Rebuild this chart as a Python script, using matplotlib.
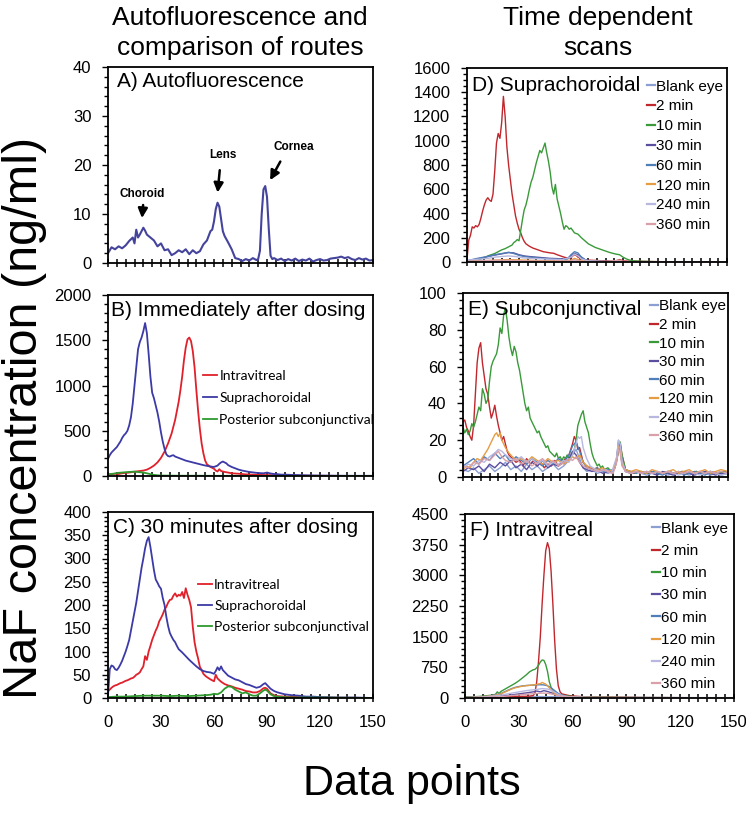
import matplotlib
matplotlib.use("Agg")
import matplotlib.pyplot as plt
from matplotlib.ticker import MultipleLocator
import numpy as np

plt.rcParams['font.family'] = ['Liberation Sans', 'DejaVu Sans']

# ---------------- data ----------------
xticks_vals = [0, 30, 60, 90, 120, 150]

# Panel A: autofluorescence
auto_A = [(0,2.0),(2,3.2),(4,2.8),(6,3.4),(8,3.0),(10,3.6),(12,4.5),(14,5.2),(15,4.0),(16,6.8),(17,5.2),(18,5.8),(19,6.5),(20,7.2),(21,6.6),(22,5.8),(24,5.2),(26,4.6),(28,3.4),(30,4.0),(32,2.6),(34,2.8),(36,1.6),(38,2.0),(40,2.6),(42,2.2),(44,2.8),(46,1.8),(48,2.6),(50,2.0),(52,2.4),(54,3.8),(56,4.6),(58,6.5),(59,6.8),(60,8.5),(61,11.0),(62,12.3),(63,11.5),(64,9.0),(65,6.5),(66,5.5),(68,4.2),(70,2.8),(72,1.0),(74,0.8),(76,0.4),(78,0.8),(80,0.5),(82,1.0),(84,0.6),(85,0.8),(86,2.5),(87,10.0),(88,15.0),(89,15.7),(90,13.5),(91,7.0),(92,1.5),(93,0.8),(94,1.0),(96,0.6),(98,0.9),(100,0.4),(102,0.8),(104,0.5),(106,0.9),(108,0.4),(110,0.7),(112,0.5),(114,0.9),(116,0.3),(118,0.6),(120,0.8),(122,0.5),(124,0.6),(126,0.9),(128,1.0),(130,1.1),(132,1.3),(134,1.0),(136,1.2),(138,0.8),(140,0.6),(142,1.0),(144,0.7),(146,0.9),(148,0.5),(150,0.6)]
annot_labels = ["Choroid", "Lens", "Cornea"]
annot_text_xy = [(19.6, 14.1), (64.9, 22.0), (104.9, 23.6)]
annot_tail_xy = [(20.0, 12.4), (63.4, 19.5), (98.3, 21.2)]
annot_head_xy = [(19.1, 8.6), (61.9, 13.8), (91.0, 16.4)]

# Panel B: immediately after dosing
B_intra = [(0,15),(2,20),(4,25),(6,22),(8,30),(10,35),(12,38),(14,45),(16,50),(18,55),(20,60),(22,70),(24,90),(26,115),(28,150),(30,200),(32,270),(34,360),(36,470),(38,620),(40,820),(41,950),(42,1100),(43,1280),(44,1420),(45,1510),(46,1530),(47,1490),(48,1380),(49,1200),(50,950),(51,720),(52,520),(53,360),(54,250),(55,170),(56,130),(58,100),(60,80),(61,60),(62,50),(63,75),(64,55),(66,45),(68,38),(70,30),(74,25),(78,18),(82,15),(86,12),(90,10),(95,8),(100,5),(110,3),(120,2),(135,1),(150,0)]
B_supra = [(0,190),(1,230),(2,260),(3,280),(4,300),(5,320),(6,350),(7,380),(8,420),(9,450),(10,470),(11,500),(12,560),(13,650),(14,800),(15,1000),(16,1200),(17,1400),(18,1480),(19,1530),(20,1600),(21,1690),(22,1580),(23,1350),(24,1100),(25,920),(26,860),(27,780),(28,700),(29,600),(30,480),(31,380),(32,300),(33,240),(34,220),(35,215),(36,225),(37,230),(38,215),(40,200),(42,185),(44,170),(46,160),(48,150),(50,140),(52,130),(54,120),(56,112),(58,105),(60,100),(62,115),(63,135),(64,150),(65,160),(66,150),(67,140),(68,120),(70,100),(72,85),(74,70),(76,60),(78,52),(80,45),(82,40),(84,35),(86,32),(88,30),(90,38),(92,28),(94,22),(96,20),(98,15),(100,15),(104,12),(108,10),(112,8),(116,6),(120,5),(126,4),(132,3),(140,2),(150,2)]
B_post = [(0,20),(3,25),(6,35),(9,40),(12,45),(15,48),(18,42),(20,38),(22,30),(24,20),(26,12),(28,8),(30,5),(35,4),(40,3),(50,3),(60,2),(70,2),(80,1),(100,1),(120,0),(150,0)]

# Panel C: 30 minutes after dosing
C_intra = [(0,15),(1,18),(2,22),(3,25),(4,27),(5,28),(6,30),(7,32),(8,33),(9,35),(10,37),(11,38),(12,40),(13,42),(14,43),(15,46),(16,50),(17,52),(18,55),(19,62),(20,68),(21,90),(22,82),(23,100),(24,112),(25,125),(26,135),(27,145),(28,153),(29,165),(30,172),(31,180),(32,190),(33,196),(34,205),(35,211),(36,212),(37,220),(38,225),(39,218),(40,222),(41,220),(42,228),(43,215),(44,236),(45,222),(46,211),(47,195),(48,153),(49,120),(50,100),(51,85),(52,67),(53,60),(54,52),(55,48),(56,45),(58,40),(60,36),(61,50),(62,42),(64,35),(66,30),(68,27),(70,25),(72,22),(74,20),(76,18),(78,15),(80,14),(82,12),(84,12),(86,15),(88,21),(89,22),(90,20),(92,10),(94,6),(96,4),(100,3),(110,2),(120,1),(150,0)]
C_supra = [(0,5),(1,62),(2,70),(3,68),(4,62),(5,60),(6,65),(7,72),(8,80),(9,90),(10,100),(11,112),(12,125),(13,145),(14,165),(15,185),(16,205),(17,230),(18,255),(19,280),(20,300),(21,322),(22,338),(23,346),(24,325),(25,300),(26,275),(27,255),(28,248),(29,240),(30,235),(31,215),(32,200),(33,175),(34,155),(35,140),(36,132),(37,125),(38,120),(39,112),(40,105),(42,98),(44,90),(46,82),(48,75),(50,68),(52,62),(54,58),(56,56),(58,55),(60,52),(61,58),(62,66),(63,60),(64,68),(65,60),(66,56),(67,52),(68,48),(70,44),(72,40),(74,38),(76,34),(78,30),(80,28),(82,25),(84,22),(86,24),(88,30),(89,32),(90,28),(92,20),(94,15),(96,12),(98,10),(100,8),(104,6),(108,5),(112,3),(116,3),(120,2),(130,1),(140,1),(150,0)]
C_post = [(0,2),(5,3),(10,3),(15,4),(20,5),(25,5),(30,5),(35,4),(40,5),(45,4),(50,5),(55,6),(58,7),(60,9),(62,8),(64,12),(66,20),(68,25),(70,24),(72,18),(74,14),(76,10),(78,12),(80,8),(82,5),(84,5),(86,10),(88,16),(89,18),(90,16),(92,8),(94,4),(98,2),(105,1),(120,1),(150,0)]
route_labels = ["Intravitreal", "Suprachoroidal", "Posterior subconjunctival"]

# Panel D: suprachoroidal time course
D_blank = [(0,2),(10,3),(20,5),(30,4),(40,3),(50,3),(60,4),(62,8),(64,4),(70,2),(80,1),(88,5),(90,2),(100,1),(150,1)]
D_2 = [(0,20),(1,180),(2,220),(3,290),(4,280),(5,300),(6,290),(7,310),(8,360),(9,420),(10,470),(11,510),(12,530),(13,510),(14,500),(15,560),(16,750),(17,980),(18,1060),(19,1020),(20,1150),(21,1366),(22,1200),(23,950),(24,800),(25,680),(26,560),(27,470),(28,380),(29,320),(30,270),(31,240),(32,200),(33,170),(34,150),(35,140),(36,130),(38,115),(40,105),(42,95),(44,85),(46,80),(48,75),(50,72),(52,60),(54,50),(56,40),(58,32),(60,35),(61,50),(62,60),(63,55),(64,40),(66,25),(68,18),(70,15),(72,14),(75,12),(78,10),(81,9),(84,8),(86,10),(88,20),(90,10),(92,8),(95,6),(100,5),(105,4),(110,3),(115,2),(120,1),(130,0),(150,0)]
D_10 = [(0,0),(2,5),(4,10),(6,15),(8,25),(10,35),(12,50),(14,60),(16,70),(18,85),(20,100),(22,110),(24,125),(26,140),(27,160),(28,170),(29,185),(30,175),(31,260),(32,350),(33,430),(34,470),(35,530),(36,600),(37,660),(38,700),(39,760),(40,820),(41,870),(42,920),(43,900),(44,940),(45,981),(46,900),(47,830),(48,740),(49,620),(50,560),(51,640),(52,520),(53,460),(54,400),(55,330),(56,270),(57,300),(58,290),(59,270),(60,280),(61,260),(62,240),(64,230),(66,200),(68,175),(70,150),(72,135),(74,120),(76,110),(78,100),(80,90),(82,80),(84,72),(86,65),(88,60),(90,40),(92,25),(94,15),(96,10),(100,6),(105,4),(110,2),(120,1),(150,0)]
D_30 = [(0,5),(3,15),(6,25),(9,35),(12,45),(15,55),(18,62),(21,70),(24,78),(27,75),(30,60),(33,50),(36,45),(40,40),(44,35),(48,30),(52,28),(56,25),(58,30),(60,50),(62,70),(64,60),(66,40),(68,20),(70,10),(74,5),(80,3),(90,2),(100,2),(120,1),(150,0)]
D_60 = [(0,10),(3,20),(6,30),(9,38),(12,45),(15,55),(18,65),(21,72),(24,80),(27,70),(30,55),(33,45),(36,40),(40,35),(44,30),(48,25),(52,22),(56,20),(58,25),(60,60),(62,85),(64,75),(66,40),(68,20),(70,10),(74,5),(80,3),(90,2),(100,1),(150,0)]
D_120 = [(0,5),(4,8),(8,10),(12,12),(16,15),(20,18),(24,20),(28,18),(32,16),(36,14),(40,12),(45,10),(50,10),(55,9),(60,15),(62,30),(64,20),(66,10),(70,5),(80,3),(90,2),(100,1),(150,0)]
D_240 = [(0,15),(4,20),(8,25),(12,30),(16,40),(20,45),(24,50),(28,45),(32,35),(36,30),(40,28),(45,25),(50,22),(55,20),(60,40),(62,65),(64,50),(66,25),(70,10),(80,5),(90,3),(100,2),(150,1)]
D_360 = [(0,5),(4,8),(8,10),(12,12),(16,14),(20,15),(24,14),(28,12),(32,10),(36,9),(40,8),(50,7),(60,10),(62,20),(64,12),(66,6),(70,4),(80,2),(88,15),(90,5),(100,2),(150,0)]

# Panel E: subconjunctival time course
E_blank = [(0,4),(3,3),(6,5),(9,2),(12,4),(15,6),(18,3),(21,5),(24,8),(27,4),(30,6),(33,3),(36,7),(39,4),(42,6),(45,3),(48,5),(51,7),(54,4),(57,6),(60,9),(62,12),(64,15),(66,10),(68,5),(70,3),(73,4),(76,2),(79,3),(82,2),(85,3),(87,10),(88,20),(89,18),(90,8),(92,3),(95,2),(98,3),(101,2),(104,1),(107,2),(110,3),(113,2),(116,1),(119,2),(122,3),(125,2),(128,1),(131,2),(134,3),(137,2),(140,1),(143,2),(146,3),(150,2)]
E_2 = [(0,30),(1,31),(2,27),(3,25),(4,22),(5,20),(6,28),(7,45),(8,62),(9,70),(10,73),(11,62),(12,55),(13,48),(14,45),(15,38),(16,32),(17,35),(18,39),(19,33),(20,28),(21,24),(22,20),(23,22),(24,18),(25,14),(26,12),(28,10),(30,8),(32,9),(34,6),(36,10),(38,7),(40,9),(42,6),(44,8),(46,5),(48,7),(50,6),(52,9),(54,6),(56,8),(58,10),(60,12),(62,18),(63,22),(64,20),(65,15),(66,16),(67,12),(68,8),(70,6),(72,5),(74,4),(76,5),(78,3),(80,4),(82,3),(84,3),(86,5),(88,14),(89,18),(90,12),(92,4),(94,3),(97,2),(100,3),(104,2),(108,3),(112,2),(116,3),(120,2),(124,3),(128,2),(132,3),(136,2),(140,3),(144,2),(148,3),(150,2)]
E_10 = [(0,27),(1,24),(2,26),(3,23),(4,25),(5,29),(6,27),(7,30),(8,34),(9,38),(10,36),(11,48),(12,45),(13,40),(14,42),(15,52),(16,60),(17,63),(18,65),(19,67),(20,72),(21,81),(22,78),(23,88),(24,92),(25,85),(26,76),(27,70),(28,66),(29,71),(30,68),(31,62),(32,58),(33,52),(34,46),(35,40),(36,36),(37,38),(38,32),(39,30),(40,28),(41,26),(42,24),(43,25),(44,22),(45,20),(46,18),(47,16),(48,17),(49,14),(50,13),(51,12),(52,11),(53,13),(54,10),(55,11),(56,9),(57,11),(58,10),(59,12),(60,10),(61,11),(62,13),(63,15),(64,20),(65,28),(66,31),(67,34),(68,36),(69,30),(70,27),(71,24),(72,18),(73,13),(74,10),(75,8),(76,6),(77,7),(78,5),(79,6),(80,4),(82,5),(84,3),(86,5),(88,14),(89,19),(90,12),(92,4),(94,3),(96,2),(100,3),(104,2),(108,3),(112,2),(116,3),(120,2),(124,3),(128,2),(132,3),(136,2),(140,3),(144,2),(148,3),(150,2)]
E_30 = [(0,3),(3,5),(6,4),(9,6),(12,3),(15,7),(18,5),(21,8),(24,6),(27,9),(30,5),(33,7),(36,4),(39,8),(42,6),(45,9),(48,5),(51,7),(54,6),(57,8),(60,10),(62,14),(64,12),(66,8),(68,5),(70,4),(73,3),(76,4),(79,2),(82,3),(85,4),(87,9),(88,17),(89,16),(90,7),(92,3),(95,2),(98,3),(101,2),(104,3),(107,2),(110,1),(113,3),(116,2),(119,1),(122,2),(125,3),(128,2),(131,1),(134,2),(137,3),(140,2),(143,1),(146,2),(150,2)]
E_60 = [(0,6),(3,8),(6,10),(9,7),(12,11),(15,9),(18,13),(21,10),(24,12),(27,8),(30,11),(33,9),(36,7),(39,10),(42,8),(45,6),(48,9),(51,7),(54,10),(57,8),(60,12),(62,17),(64,19),(66,14),(68,8),(70,5),(73,4),(76,5),(79,3),(82,4),(85,3),(87,10),(88,19),(89,17),(90,8),(92,4),(95,3),(98,2),(101,3),(104,2),(107,3),(110,2),(113,1),(116,3),(119,2),(122,3),(125,1),(128,2),(131,3),(134,2),(137,1),(140,3),(143,2),(146,1),(150,2)]
E_120 = [(0,4),(2,6),(4,5),(6,8),(8,10),(10,9),(12,12),(14,15),(16,19),(18,23),(19,24),(20,22),(21,24),(22,20),(24,16),(26,13),(28,11),(30,9),(33,10),(36,8),(39,11),(42,9),(45,7),(48,10),(51,8),(54,9),(57,7),(60,9),(62,11),(64,10),(66,12),(68,8),(70,6),(73,5),(76,4),(79,5),(82,3),(85,4),(87,10),(88,17),(89,15),(90,7),(92,4),(95,3),(98,4),(101,3),(104,2),(107,4),(110,3),(113,2),(116,3),(119,4),(122,2),(125,3),(128,4),(131,2),(134,3),(137,4),(140,2),(143,3),(146,4),(150,3)]
E_240 = [(0,5),(3,7),(6,6),(9,9),(12,8),(15,11),(18,13),(20,15),(22,14),(24,12),(27,10),(30,9),(33,11),(36,8),(39,10),(42,7),(45,9),(48,6),(51,8),(54,7),(57,9),(60,8),(62,12),(64,18),(65,22),(66,21),(67,22),(68,16),(70,10),(72,6),(75,4),(78,3),(81,4),(84,2),(87,11),(88,20),(89,18),(90,9),(92,3),(95,2),(98,3),(101,2),(104,3),(107,2),(110,3),(113,2),(116,3),(119,2),(122,1),(125,2),(128,3),(131,2),(134,1),(137,2),(140,3),(143,2),(146,1),(150,2)]
E_360 = [(0,6),(3,5),(6,8),(9,7),(12,10),(15,9),(18,12),(20,14),(22,11),(24,9),(27,8),(30,10),(33,7),(36,9),(39,6),(42,8),(45,10),(48,7),(51,9),(54,6),(57,8),(60,10),(62,9),(64,11),(66,8),(68,6),(70,5),(73,4),(76,3),(79,4),(82,3),(85,2),(87,8),(88,15),(89,13),(90,6),(92,3),(95,2),(98,3),(101,2),(104,3),(107,2),(110,3),(113,2),(116,3),(119,2),(122,3),(125,2),(128,3),(131,2),(134,3),(137,2),(140,3),(143,2),(146,3),(150,2)]

# Panel F: intravitreal time course
F_blank = [(0,20),(10,25),(20,30),(30,30),(40,35),(50,30),(60,25),(80,20),(100,15),(120,10),(150,8)]
F_2 = [(0,20),(5,25),(10,30),(15,30),(20,35),(25,35),(30,40),(33,40),(36,45),(38,60),(39,120),(40,400),(41,900),(42,1500),(43,2300),(44,3000),(45,3600),(46,3800),(47,3650),(48,3100),(49,2300),(50,1400),(51,700),(52,300),(53,150),(54,100),(56,80),(58,60),(60,50),(63,40),(66,30),(70,25),(75,20),(80,20),(90,15),(100,10),(110,10),(120,8),(135,5),(150,5)]
F_10 = [(0,20),(5,30),(10,45),(15,70),(17,90),(18,150),(19,110),(20,160),(22,210),(24,260),(26,310),(28,360),(30,420),(32,490),(34,560),(36,640),(38,690),(39,700),(40,740),(41,800),(42,880),(43,930),(44,920),(45,820),(46,650),(47,400),(48,260),(49,180),(50,130),(52,90),(54,70),(56,55),(58,45),(60,35),(65,25),(70,20),(80,15),(100,10),(150,5)]
F_30 = [(0,10),(5,15),(10,20),(15,30),(20,45),(25,70),(30,100),(35,130),(38,150),(40,170),(42,150),(44,180),(46,160),(48,130),(50,100),(52,70),(55,40),(58,25),(62,15),(70,10),(80,8),(100,5),(150,3)]
F_60 = [(0,10),(4,15),(8,25),(12,40),(16,70),(20,110),(22,150),(24,190),(26,230),(28,260),(30,280),(32,295),(34,305),(36,310),(38,315),(40,320),(42,325),(44,320),(46,300),(48,250),(50,180),(52,110),(54,70),(56,45),(58,30),(60,20),(65,15),(70,10),(80,8),(100,5),(150,3)]
F_120 = [(0,10),(4,15),(8,25),(12,40),(16,60),(20,100),(22,140),(24,180),(26,220),(28,250),(30,270),(32,290),(34,300),(36,310),(38,320),(40,330),(41,345),(42,350),(43,380),(44,360),(45,340),(46,300),(47,250),(48,200),(49,150),(50,110),(52,70),(54,50),(56,35),(58,25),(60,20),(65,15),(70,12),(80,10),(90,8),(100,6),(120,4),(150,3)]
F_240 = [(0,10),(5,15),(10,25),(15,45),(20,70),(25,110),(30,150),(35,185),(40,210),(43,230),(46,220),(48,190),(50,140),(52,90),(55,50),(58,30),(62,20),(70,12),(80,8),(100,6),(150,4)]
F_360 = [(0,5),(5,10),(10,15),(15,25),(20,35),(25,55),(30,75),(35,95),(40,110),(43,120),(46,115),(48,100),(50,80),(53,50),(56,30),(60,20),(70,12),(80,10),(90,15),(100,8),(120,5),(150,3)]

time_labels = ["Blank eye", "2 min", "10 min", "30 min", "60 min", "120 min", "240 min", "360 min"]
time_colors = ["#8c9fd2", "#c0272d", "#3a9a3a", "#5a4e9e", "#4f7fb8", "#e59c42", "#b7b7e0", "#d9a0aa"]
route_colors = ["#e0202a", "#3b3aa6", "#2e9a2e"]

# ---------------- figure ----------------
W, H = 746, 814
fig = plt.figure(figsize=(W / 100, H / 100), dpi=100)

def make_ax(l, r, t, b):
    return fig.add_axes([l / W, 1 - b / H, (r - l) / W, (b - t) / H])

def style(ax, ymax, ymaj, ymin, show_xlabels):
    ax.set_xlim(0, 150)
    ax.set_ylim(0, ymax)
    ax.set_xticks(xticks_vals)
    ax.xaxis.set_minor_locator(MultipleLocator(5))
    ax.set_yticks(np.arange(0, ymax + 0.001, ymaj))
    ax.yaxis.set_minor_locator(MultipleLocator(ymin))
    ax.tick_params(axis='x', which='both', direction='inout', length=6, width=1.1,
                   labelsize=12, pad=9, labelbottom=show_xlabels)
    ax.tick_params(axis='y', which='major', direction='out', length=4, width=1.0,
                   labelsize=12, pad=8)
    ax.tick_params(axis='y', which='minor', direction='out', length=3, width=1.0)
    for s in ax.spines.values():
        s.set_linewidth(1.3)
        s.set_color('black')

def xy(series):
    arr = np.array(series, dtype=float)
    return arr[:, 0], arr[:, 1]

# Panel A
axA = make_ax(108, 373, 67, 263)
style(axA, 40, 10, 2, False)
axA.plot(*xy(auto_A), color="#45449c", lw=1.5)
axA.text(0.035, 0.925, "A) Autofluorescence", transform=axA.transAxes, fontsize=15, va='center', ha='left')
for lab, txy, tail, head in zip(annot_labels, annot_text_xy, annot_tail_xy, annot_head_xy):
    axA.text(txy[0], txy[1], lab, fontsize=8.5, fontweight='bold', ha='center', va='center')
    axA.annotate("", xy=head, xytext=tail,
                 arrowprops=dict(arrowstyle='-|>', lw=1.8, color='black', mutation_scale=14))

# Panel B
axB = make_ax(108, 373, 295, 476)
style(axB, 2000, 500, 100, False)
for s, c, lab in zip([B_intra, B_supra, B_post], route_colors, route_labels):
    axB.plot(*xy(s), color=c, lw=1.3, label=lab)
axB.text(0.01, 0.915, "B) Immediately after dosing", transform=axB.transAxes, fontsize=15, va='center', ha='left')
axB.legend(loc='upper left', bbox_to_anchor=(0.36, 0.585), frameon=False,
           prop={'family': ['Lato', 'DejaVu Sans'], 'size': 10}, handlelength=1.0,
           handletextpad=0.15, labelspacing=0.70, borderpad=0, borderaxespad=0)

# Panel C
axC = make_ax(108, 373, 512, 698)
style(axC, 400, 50, 10, True)
for s, c, lab in zip([C_intra, C_supra, C_post], route_colors, route_labels):
    axC.plot(*xy(s), color=c, lw=1.3, label=lab)
axC.text(0.02, 0.914, "C) 30 minutes after dosing", transform=axC.transAxes, fontsize=15, va='center', ha='left')
axC.legend(loc='upper left', bbox_to_anchor=(0.34, 0.64), frameon=False,
           prop={'family': ['Lato', 'DejaVu Sans'], 'size': 10}, handlelength=1.0,
           handletextpad=0.15, labelspacing=0.65, borderpad=0, borderaxespad=0)

def time_panel(ax, series_list, title, legend_x, legend_y, spacing):
    for s, c, lab in zip(series_list, time_colors, time_labels):
        ax.plot(*xy(s), color=c, lw=1.0, label=lab)
    ax.text(0.02, 0.91, title, transform=ax.transAxes, fontsize=15, va='center', ha='left')
    leg = ax.legend(loc='upper left', bbox_to_anchor=(legend_x, legend_y), frameon=False,
                    fontsize=11, handlelength=0.5, handletextpad=0.1,
                    labelspacing=spacing, borderpad=0, borderaxespad=0)
    for h in leg.legend_handles:
        h.set_linewidth(1.6)

# Panel D
axD = make_ax(467, 727, 68, 262)
style(axD, 1600, 200, 50, False)
time_panel(axD, [D_blank, D_2, D_10, D_30, D_60, D_120, D_240, D_360], "D) Suprachoroidal", 0.692, 0.94, 0.38)

# Panel E
axE = make_ax(463, 728, 293, 477)
style(axE, 100, 20, 4, False)
time_panel(axE, [E_blank, E_2, E_10, E_30, E_60, E_120, E_240, E_360], "E) Subconjunctival", 0.706, 0.965, 0.30)

# Panel F
axF = make_ax(465, 734, 514, 698)
style(axF, 4500, 750, 150, True)
time_panel(axF, [F_blank, F_2, F_10, F_30, F_60, F_120, F_240, F_360], "F) Intravitreal", 0.695, 0.958, 0.54)

# Column titles and global axis labels
fig.text(240 / W, 1 - 33 / H, "Autofluorescence and\ncomparison of routes", ha='center', va='center',
         fontsize=19, linespacing=1.28)
fig.text(598 / W, 1 - 33 / H, "Time dependent\nscans", ha='center', va='center',
         fontsize=19, linespacing=1.28)
fig.text(25 / W, 1 - 418 / H, "NaF concentration (ng/ml)", rotation=90, ha='center', va='center',
         fontsize=35)
fig.text(412 / W, 1 - 784 / H, "Data points", ha='center', va='center', fontsize=31)

fig.savefig("out.png", dpi=100)
